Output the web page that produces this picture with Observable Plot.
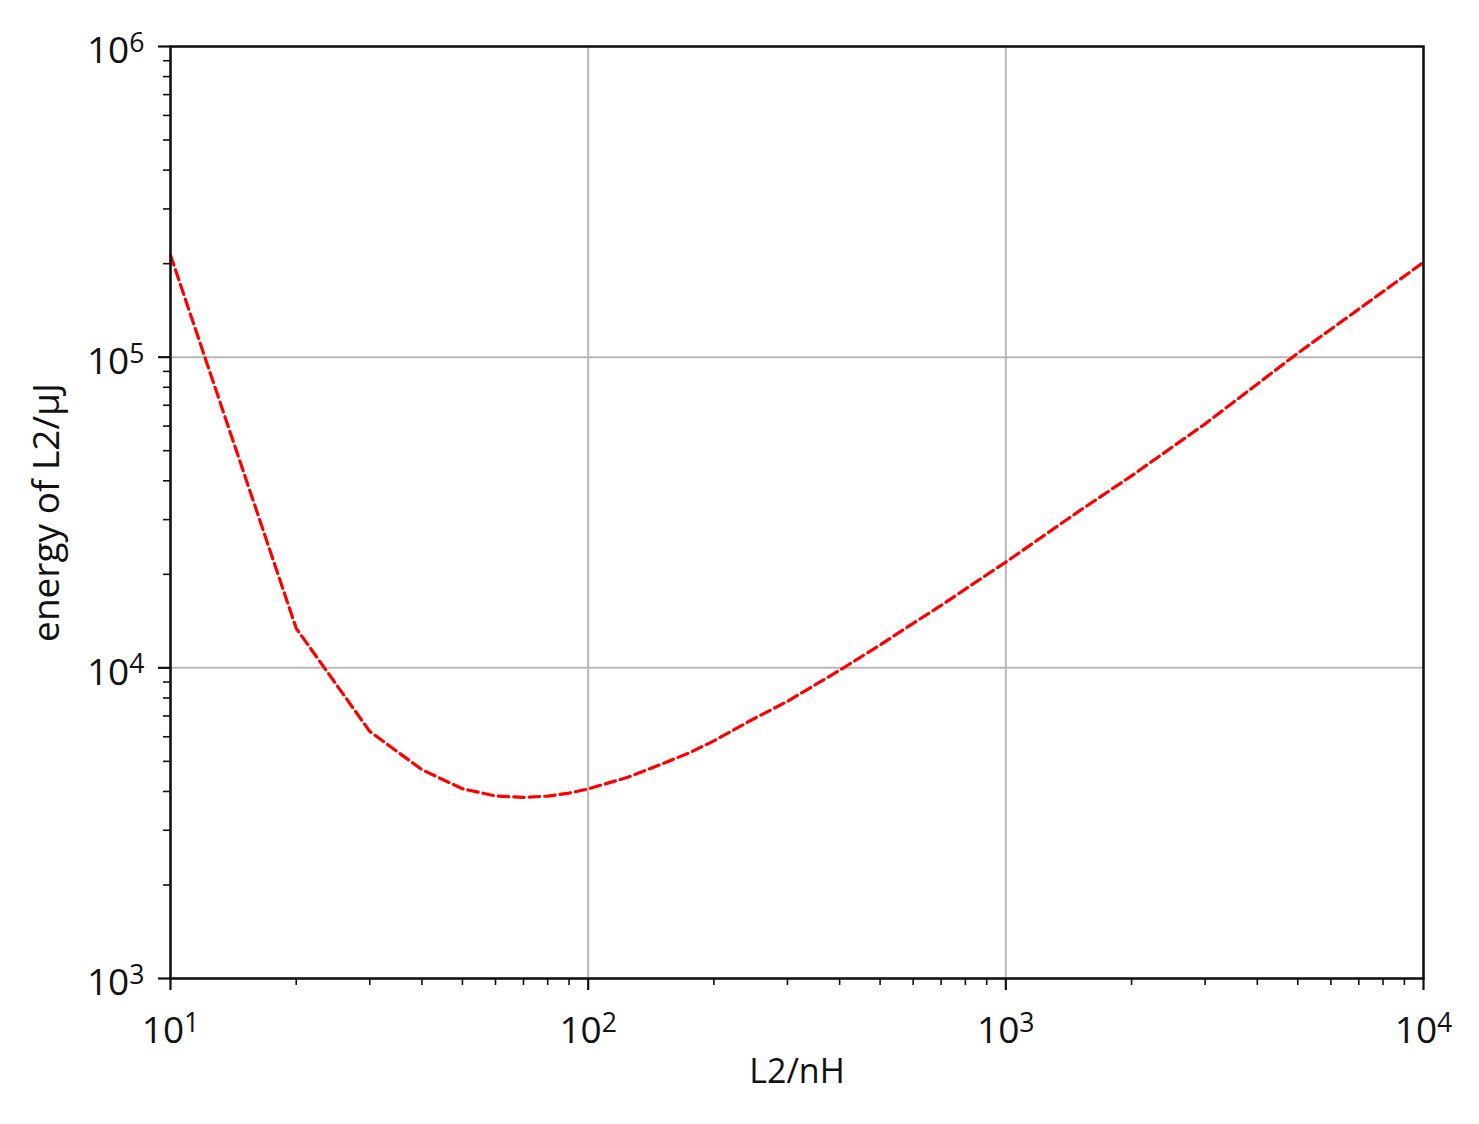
<!DOCTYPE html>
<html>
<head>
<meta charset="utf-8">
<script src="https://cdn.jsdelivr.net/npm/d3@7"></script>
<script src="https://cdn.jsdelivr.net/npm/@observablehq/plot@0.6"></script>
<style>
  html, body { margin: 0; padding: 0; background: #fff; }
  #chart svg { display: block; }
</style>
</head>
<body>
<div id="chart"></div>
<script>
// ---- data ----
const L2_nH = [10, 20, 30, 40, 50, 60, 70, 80, 90, 100, 125, 150, 175, 200, 250, 300, 400, 500, 600, 700, 800, 1000, 1500, 2000, 3000, 5000, 7000, 10000];
const energy_uJ = [213000, 13400, 6240, 4700, 4080, 3870, 3830, 3865, 3950, 4075, 4455, 4900, 5334, 5820, 6870, 7800, 9820, 11850, 13910, 15880, 17920, 21900, 32000, 41500, 61000, 103000, 142800, 202000];

const xMajorTicks = [10, 100, 1000, 10000];
const yMajorTicks = [1e3, 1e4, 1e5, 1e6];
const xMinorTicks = [20, 30, 40, 50, 60, 70, 80, 90, 200, 300, 400, 500, 600, 700, 800, 900, 2000, 3000, 4000, 5000, 6000, 7000, 8000, 9000];
const yMinorTicks = [2e3, 3e3, 4e3, 5e3, 6e3, 7e3, 8e3, 9e3, 2e4, 3e4, 4e4, 5e4, 6e4, 7e4, 8e4, 9e4, 2e5, 3e5, 4e5, 5e5, 6e5, 7e5, 8e5, 9e5];
const xLabel = "L2/nH";
const yLabel = "energy of L2/μJ";

const supDigits = "⁰¹²³⁴⁵⁶⁷⁸⁹";
const powerLabel = d => "10" + String(Math.round(Math.log10(d))).split("").map(c => supDigits[+c]).join("");

const data = L2_nH.map((x, i) => ({x, y: energy_uJ[i]}));
const FONT = "'Open Sans', 'DejaVu Sans', sans-serif";

const chart = Plot.plot({
  width: 1479,
  height: 1124,
  marginLeft: 170,
  marginRight: 56,
  marginTop: 46,
  marginBottom: 146,
  style: {fontFamily: FONT, fontSize: "37px", color: "#111", background: "#fff"},
  x: {type: "log", domain: [10, 1e4]},
  y: {type: "log", domain: [1e3, 1e6]},
  marks: [
    Plot.gridX(xMajorTicks, {stroke: "#b8b8b8", strokeOpacity: 1, strokeWidth: 2}),
    Plot.gridY(yMajorTicks, {stroke: "#b8b8b8", strokeOpacity: 1, strokeWidth: 2}),
    Plot.line(data, {x: "x", y: "y", stroke: "#ff0000", strokeWidth: 3.2, strokeDasharray: "10.5,5"}),
    // minor ticks
    Plot.axisX(xMinorTicks, {tickSize: 7, strokeWidth: 1.6, stroke: "#111", fill: "none", label: null}),
    Plot.axisY(yMinorTicks, {tickSize: 7, strokeWidth: 1.6, stroke: "#111", fill: "none", label: null}),
    // major ticks
    Plot.axisX(xMajorTicks, {tickSize: 12, strokeWidth: 2.2, stroke: "#111", fill: "none", label: null}),
    Plot.axisY(yMajorTicks, {tickSize: 12, strokeWidth: 2.2, stroke: "#111", fill: "none", label: null}),
    // major tick labels
    Plot.axisX(xMajorTicks, {stroke: "none", tickSize: 12, tickPadding: 26, fontSize: 37, fill: "#111", tickFormat: powerLabel, label: null}),
    Plot.axisY(yMajorTicks, {stroke: "none", tickSize: 12, tickPadding: 14, fontSize: 37, fill: "#111", dy: 5, tickFormat: powerLabel, label: null}),
    // axis titles
    Plot.text([xLabel], {frameAnchor: "bottom", dy: 104, fontSize: 34, fill: "#111", text: d => d}),
    Plot.text([yLabel], {frameAnchor: "left", textAnchor: "middle", dx: -123, rotate: -90, fontSize: 37, fill: "#111", text: d => d}),
    Plot.frame({stroke: "#111", strokeWidth: 2.5})
  ]
});

document.getElementById("chart").appendChild(chart);

// render exponents as raised, smaller superscripts
d3.select(chart).selectAll('g[aria-label$="tick label"] text').each(function() {
  const t = this.textContent;
  const m = /^10(.+)$/.exec(t);
  if (!m) return;
  const exp = m[1].split("").map(c => supDigits.indexOf(c)).join("");
  const sel = d3.select(this);
  sel.text("10");
  sel.append("tspan").attr("dy", "-0.42em").attr("font-size", "0.72em").text(exp);
});
</script>
</body>
</html>
